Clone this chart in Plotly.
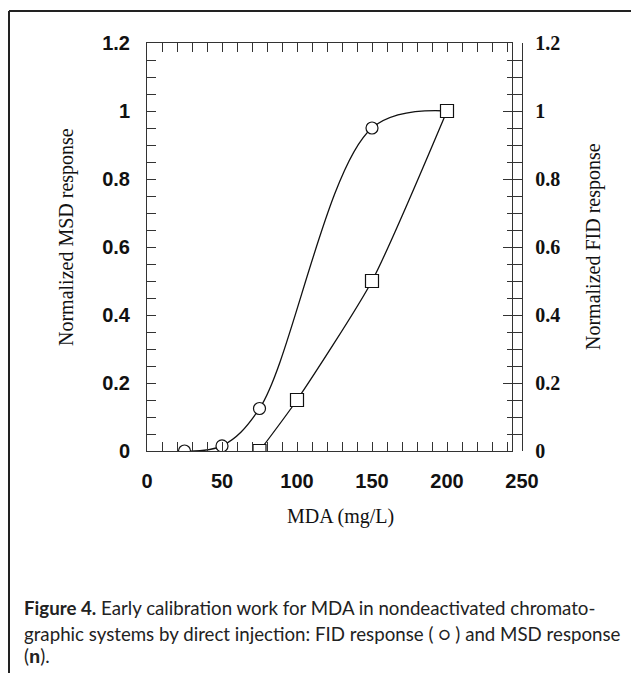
import plotly.graph_objects as go

# ---- data ----
fid_x = [25, 50, 75, 150, 200]
fid_y = [0.0, 0.015, 0.125, 0.95, 1.0]
msd_x = [75, 100, 150, 200]
msd_y = [0.0, 0.15, 0.5, 1.0]
x_tick_vals = [0, 50, 100, 150, 200, 250]
y_tick_vals = [0, 0.2, 0.4, 0.6, 0.8, 1.0, 1.2]
y_tick_text = ["0", "0.2", "0.4", "0.6", "0.8", "1", "1.2"]

W, H = 631, 673
L, R, T, B = 147, 109, 43, 222
PW = W - L - R   # 375
PH = H - T - B   # 408


def px(x):
    return (x - L) / PW


def py(y):
    return (H - B - y) / PH


x_main_end = (512.3 - L) / PW

fig = go.Figure()
fig.add_trace(go.Scatter(
    x=fid_x, y=fid_y, mode="lines+markers", name="FID",
    line=dict(color="#111111", width=1.3, shape="spline", smoothing=1.0),
    marker=dict(symbol="circle", size=12, color="white",
                line=dict(color="#111111", width=1.2)),
    xaxis="x", yaxis="y", showlegend=False,
))
fig.add_trace(go.Scatter(
    x=msd_x, y=msd_y, mode="lines+markers", name="MSD",
    line=dict(color="#111111", width=1.3, shape="spline", smoothing=0.6),
    marker=dict(symbol="square", size=13, color="white",
                line=dict(color="#111111", width=1.2)),
    xaxis="x", yaxis="y", showlegend=False,
))
# helper traces so the label-only axes are drawn
fig.add_trace(go.Scatter(x=[None], y=[None], xaxis="x2", yaxis="y",
                         showlegend=False, hoverinfo="skip"))
fig.add_trace(go.Scatter(x=[None], y=[None], xaxis="x", yaxis="y2",
                         showlegend=False, hoverinfo="skip"))

axis_col = "#333333"
fig.update_layout(
    width=W, height=H, autosize=False,
    margin=dict(l=L, r=R, t=T, b=B, pad=0),
    paper_bgcolor="white", plot_bgcolor="rgba(0,0,0,0)",
    xaxis=dict(
        domain=[0, x_main_end], range=[0, 250 * x_main_end],
        showgrid=False, zeroline=False, showline=True, linecolor=axis_col,
        linewidth=1, mirror="allticks", ticks="inside", ticklen=9,
        tickcolor=axis_col, dtick=50, tick0=0, showticklabels=False,
        minor=dict(ticks="inside", ticklen=5, dtick=10, tickcolor=axis_col),
        anchor="y",
    ),
    xaxis2=dict(
        domain=[0, 1], range=[0, 250], anchor="y",
        showgrid=False, zeroline=False, showline=False, ticks="",
        tickvals=x_tick_vals, ticktext=[str(v) for v in x_tick_vals],
        tickfont=dict(family="Liberation Sans, Arial", size=20, color="#111111",
                      weight="bold"),
        ticklabelstandoff=16,
    ),
    yaxis=dict(
        domain=[0, 1], range=[0, 1.2], anchor="x",
        showgrid=False, zeroline=False, showline=True, linecolor=axis_col,
        linewidth=1, mirror="allticks", ticks="inside", ticklen=9,
        tickcolor=axis_col, tickvals=y_tick_vals, ticktext=y_tick_text,
        tickfont=dict(family="Liberation Sans, Arial", size=20, color="#111111",
                      weight="bold"),
        ticklabelstandoff=12,
        minor=dict(ticks="inside", ticklen=5, dtick=0.05, tickcolor=axis_col),
    ),
    yaxis2=dict(
        overlaying="y", side="right", anchor="x", range=[0, 1.2],
        showgrid=False, zeroline=False, showline=False, ticks="",
        tickvals=y_tick_vals, ticktext=y_tick_text,
        tickfont=dict(family="Liberation Serif, Times New Roman", size=20,
                      color="#111111", weight="bold"),
        ticklabelstandoff=22,
    ),
)

serif = "Liberation Serif, Times New Roman, serif"
ann = [
    dict(text="Normalized MSD response", x=px(66), y=py(237), textangle=-90,
         font=dict(family=serif, size=20, color="#111111")),
    dict(text="Normalized FID response", x=px(593), y=py(247), textangle=-90,
         font=dict(family=serif, size=20, color="#111111")),
    dict(text="MDA (mg/L)", x=px(340), y=py(516),
         font=dict(family=serif, size=20, color="#111111")),
]
cap_font = "Lato, Roboto, Liberation Sans, sans-serif"
cap_lines = [
    ("<b>Figure 4.</b> Early calibration work for MDA in nondeactivated chromato-", 608),
    ("graphic systems by direct injection: FID response ( \u25cb ) and MSD response", 634),
    ("(<span style=\"font-family:Liberation Mono, monospace\"><b>n</b></span>).", 657),
]
for txt, yy in cap_lines:
    ann.append(dict(text=txt, x=px(22), y=py(yy), xanchor="left",
                    font=dict(family=cap_font, size=18.7, color="#222222")))
for a in ann:
    a.update(xref="paper", yref="paper", showarrow=False)
    a.setdefault("xanchor", "center")
    a.setdefault("yanchor", "middle")
fig.update_layout(annotations=ann)

# figure frame: top rule and left rule
fig.update_layout(shapes=[
    dict(type="line", xref="paper", yref="paper", x0=px(9), x1=px(631),
         y0=py(11), y1=py(11), line=dict(color="#222222", width=2)),
    dict(type="line", xref="paper", yref="paper", x0=px(9), x1=px(9),
         y0=py(11), y1=py(673), line=dict(color="#222222", width=2)),
])

fig.write_html("out.html")
